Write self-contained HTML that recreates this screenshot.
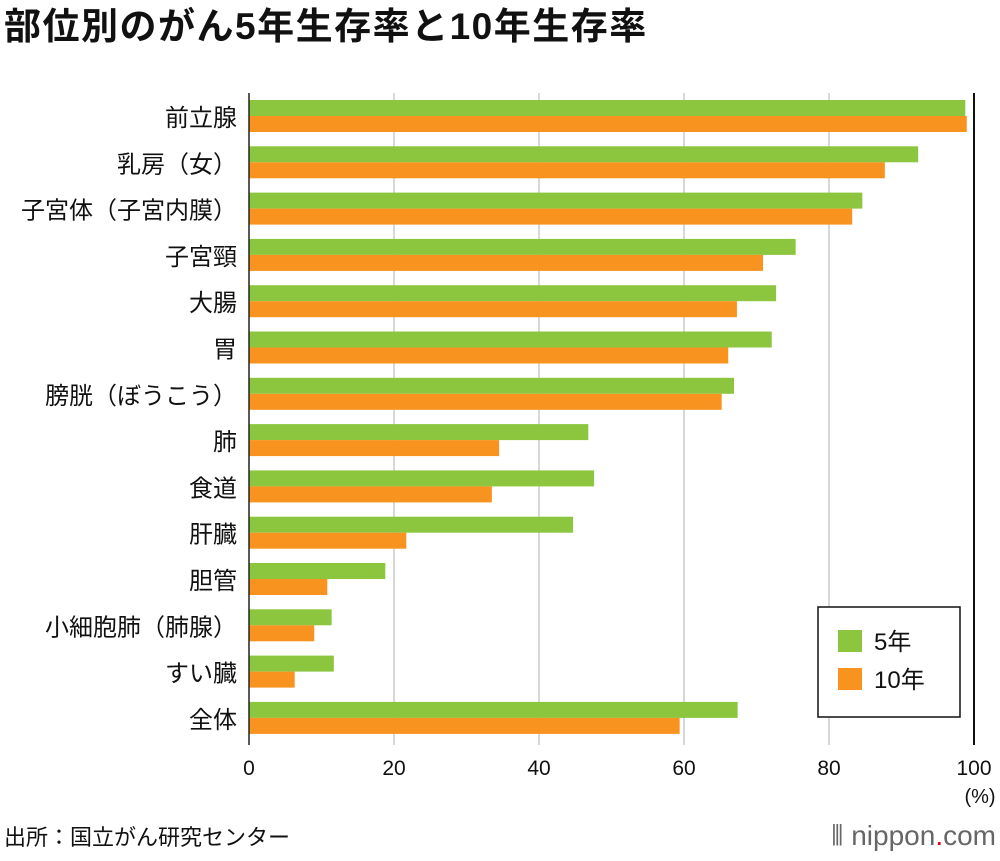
<!DOCTYPE html>
<html><head><meta charset="utf-8"><style>
body{margin:0;background:#fff;font-family:"Liberation Sans","Noto Sans CJK JP",sans-serif;}
svg text{font-family:"Liberation Sans","Noto Sans CJK JP",sans-serif;}
</style></head><body>
<svg id="c" width="1000" height="856" xmlns="http://www.w3.org/2000/svg">
<text x="4" y="39" font-size="37" letter-spacing="1.5" font-weight="bold" fill="#111">部位別のがん5年生存率と10年生存率</text>
<g id="grid"></g><g id="bars"></g><g id="labels"></g><g id="ticks"></g>
<line x1="249" y1="93" x2="249" y2="745" stroke="#222" stroke-width="1.5"/>
<text x="980" y="803" font-size="20" text-anchor="middle" fill="#111">(%)</text>
<g>
<rect x="818" y="607" width="142" height="110" fill="#fff" stroke="#111" stroke-width="1.5"/>
<rect x="838" y="630" width="24" height="22" fill="#8cc63f"/>
<text x="874" y="650" font-size="24" fill="#111">5年</text>
<rect x="838" y="668" width="24" height="22" fill="#f7931e"/>
<text x="874" y="688" font-size="24" fill="#111">10年</text>
</g>
<text x="4" y="845" font-size="22" fill="#111">出所：国立がん研究センター</text>
<text x="996" y="845" font-size="28" text-anchor="end" fill="#666">⦀ nippon<tspan fill="#e60012">.</tspan>com</text>
</svg>
<script>
const categories=["前立腺","乳房（女）","子宮体（子宮内膜）","子宮頸","大腸","胃","膀胱（ぼうこう）","肺","食道","肝臓","胆管","小細胞肺（肺腺）","すい臓","全体"];
const fiveYear=[98.8,92.3,84.6,75.4,72.7,72.1,66.9,46.8,47.6,44.7,18.8,11.4,11.7,67.4];
const tenYear=[99.0,87.7,83.2,70.9,67.3,66.1,65.2,34.5,33.5,21.7,10.8,9.0,6.3,59.4];
const xTicks=[0,20,40,60,80,100];
const NS="http://www.w3.org/2000/svg";
const x=v=>249+v*7.25;
const rowTop=i=>100+i*46.3;
function mk(tag,attrs,parent){const e=document.createElementNS(NS,tag);for(const k in attrs)e.setAttribute(k,attrs[k]);document.getElementById(parent).appendChild(e);return e;}
xTicks.forEach((t,i)=>{
  if(t>0){const l=mk('line',{x1:x(t),x2:x(t),y1:93,y2:745,stroke:t===100?'#111':'#ccc','stroke-width':t===100?2:1.5},'grid');
  
  }
  const tx=mk('text',{x:x(t),y:775,'font-size':21,'text-anchor':'middle',fill:'#111'},'ticks');
  tx.textContent=t;
  
  
});
categories.forEach((c,i)=>{
  const y=rowTop(i);
  const g=mk('rect',{x:249,y:y,width:x(fiveYear[i])-249,height:16,fill:'#8cc63f'},'bars');
  
  
  const o=mk('rect',{x:249,y:y+16,width:x(tenYear[i])-249,height:16,fill:'#f7931e'},'bars');
  
  
  const t=mk('text',{x:237,y:y+26,'font-size':24,'text-anchor':'end',fill:'#111'},'labels');
  t.textContent=c;
  
  
});
</script>
</body></html>
